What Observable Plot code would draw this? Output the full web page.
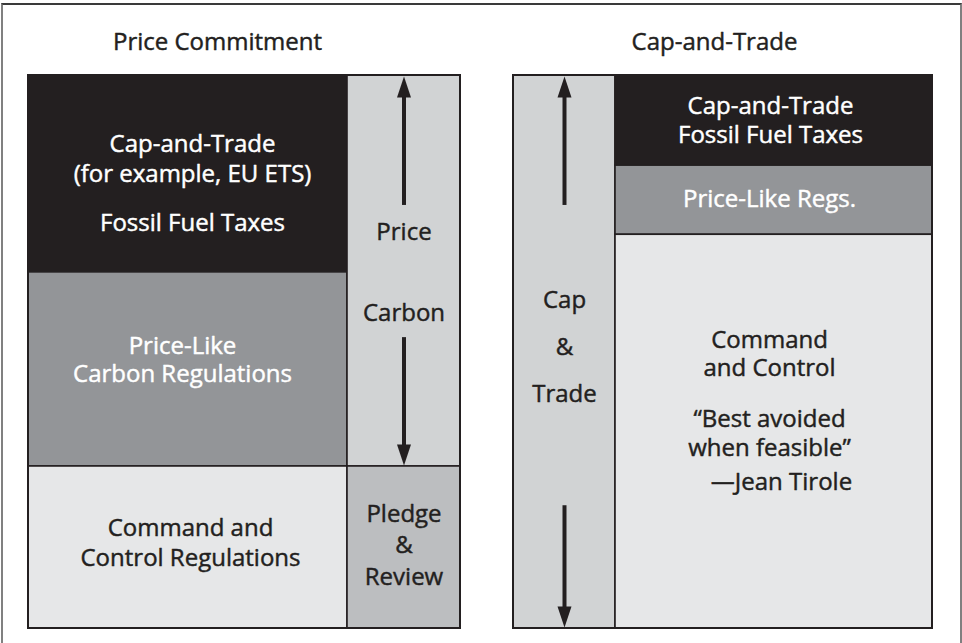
<!DOCTYPE html>
<html>
<head>
<meta charset="utf-8">
<script src="https://cdn.jsdelivr.net/npm/d3@7"></script>
<script src="https://cdn.jsdelivr.net/npm/@observablehq/plot@0.6"></script>
<style>
  html, body { margin: 0; padding: 0; background: #fff; }
  #wrap { position: relative; width: 962px; height: 643px; overflow: hidden; }
  #frame { position: absolute; left: 1px; top: 3px; width: 961px; height: 700px;
           border-left: 2px solid #808080; border-top: 2px solid #3a3a3a; border-right: 2px solid #808080;
           pointer-events: none; box-sizing: border-box; }
  #chart { position: absolute; left: 0; top: 0; }
</style>
</head>
<body>
<div id="wrap"><div id="chart"></div><div id="frame"></div></div>
<script>
// ---------------- DATA ----------------
const panelTitles = ["Price Commitment", "Cap-and-Trade"];

// Price Commitment panel: main column (top to bottom) and side column
const pcMainBlocks = ["Cap-and-Trade / Fossil Fuel Taxes", "Price-Like Carbon Regulations", "Command and Control Regulations"];
const pcMainShares = [35.6, 35.1, 29.3];
const pcMainLabels = [["Cap-and-Trade\n(for example, EU ETS)", "Fossil Fuel Taxes"], ["Price-Like\nCarbon Regulations"], ["Command and\nControl Regulations"]];

const pcSideBlocks = ["Price Carbon", "Pledge & Review"];
const pcSideShares = [70.7, 29.3];
const pcSideLabels = [["Price", "Carbon"], ["Pledge\n&\nReview"]];

// Cap-and-Trade panel: side column and main column (top to bottom)
const ctSideBlocks = ["Cap & Trade"];
const ctSideShares = [100];
const ctSideLabels = [["Cap", "&", "Trade"]];

const ctMainBlocks = ["Cap-and-Trade / Fossil Fuel Taxes", "Price-Like Regs.", "Command and Control"];
const ctMainShares = [16.3, 12.5, 71.2];
const ctMainLabels = [["Cap-and-Trade\nFossil Fuel Taxes"], ["Price-Like Regs."], ["Command\nand Control", "\u201CBest avoided\nwhen feasible\u201D", "\u2014Jean Tirole"]];

// Arrows in the side columns: tail and tip, in % of panel height
const arrowColumns = ["pcSide", "pcSide", "ctSide", "ctSide"];
const arrowFrom = [76.5, 52.6, 76.5, 22.2];
const arrowTo = [100, 29.3, 100, 0];

// ---------------- LAYOUT / STYLE ----------------
const W = 962, H = 643, MT = 75, MB = 15;
const pxPerUnit = (H - MT - MB) / 100;
const colX = { pcMain: [28, 347], pcSide: [347, 460], ctSide: [513, 615], ctMain: [615, 932] };
const panelCols = [["pcMain", "pcSide"], ["ctSide", "ctMain"]];
const titleX = [217, 714];
const palette = { dark: "#231f20", mid: "#939598", light: "#e6e7e8", column: "#d1d3d4", pledge: "#bcbec0" };
const tones = { pcMain: ["dark", "mid", "light"], pcSide: ["column", "pledge"], ctSide: ["column"], ctMain: ["dark", "mid", "light"] };
// per-label offsets (px) of the label centre from its block's centre: [dx, dy, line spacing]
const labelOffsets = {
  pcMain: [[[4.5, -15, 30], [4.5, 50, 29]], [[-5.5, -8, 28]], [[2.5, -4, 30]]],
  pcSide: [[[0, -38, 29], [0, 42.5, 29]], [[0, -2.5, 31.5]]],
  ctSide: [[[0, -51.5, 29], [0, -4.5, 29], [0, 42.5, 29]]],
  ctMain: [[[-3.5, 0.5, 29]], [[-4.5, -0.5, 29]], [[-4.5, -77, 28], [-4.5, 2.5, 29], [7.5, 51, 29]]]
};
const fontSize = 24;
const ink = "#231f20";

// ---------------- BUILD ----------------
const columns = {
  pcMain: [pcMainBlocks, pcMainShares, pcMainLabels],
  pcSide: [pcSideBlocks, pcSideShares, pcSideLabels],
  ctSide: [ctSideBlocks, ctSideShares, ctSideLabels],
  ctMain: [ctMainBlocks, ctMainShares, ctMainLabels]
};
const cells = [];
const labels = [];
for (const [col, [blocks, shares, texts]] of Object.entries(columns)) {
  let top = 100;
  blocks.forEach((b, i) => {
    const y2 = top, y1 = top - shares[i];
    top = y1;
    const tone = tones[col][i];
    cells.push({ column: col, block: b, tone, y1, y2 });
    const cx = (colX[col][0] + colX[col][1]) / 2, cy = (y1 + y2) / 2;
    texts[i].forEach((t, j) => {
      const [dx, dy, lh] = labelOffsets[col][i][j];
      labels.push({ text: t, x: cx + dx, y: cy - dy / pxPerUnit, lh, light: tone === "dark" || tone === "mid" });
    });
  });
}
const panels = panelTitles.map((t, i) => ({ title: t, x1: colX[panelCols[i][0]][0], x2: colX[panelCols[i][1]][1], tx: titleX[i] }));
const arrows = arrowColumns.map((c, i) => ({ x: (colX[c][0] + colX[c][1]) / 2, from: arrowFrom[i], to: arrowTo[i], up: arrowTo[i] > arrowFrom[i] }));

const headLen = 21, headHalf = 7;
const headUp = { draw(ctx) { ctx.moveTo(0, 0); ctx.lineTo(headHalf, headLen); ctx.lineTo(-headHalf, headLen); ctx.closePath(); } };
const headDown = { draw(ctx) { ctx.moveTo(0, 0); ctx.lineTo(headHalf, -headLen); ctx.lineTo(-headHalf, -headLen); ctx.closePath(); } };

const textMarks = Array.from(new Set(labels.map(d => d.lh))).map(lh =>
  Plot.text(labels.filter(d => d.lh === lh), {
    x: "x", y: "y", text: "text", fontSize, lineAnchor: "middle", lineHeight: lh / fontSize, dy: -2,
    fill: d => d.light ? "#ffffff" : ink, stroke: d => d.light ? "#ffffff" : ink, strokeWidth: 0.45
  })
);

const chart = Plot.plot({
  width: W, height: H,
  marginTop: MT, marginBottom: MB, marginLeft: 0, marginRight: 0,
  x: { domain: [0, W], axis: null },
  y: { domain: [0, 100], axis: null },
  style: { fontFamily: "'Open Sans', sans-serif", background: "transparent" },
  marks: [
    Plot.rect(cells, { x1: d => colX[d.column][0], x2: d => colX[d.column][1], y1: "y1", y2: "y2",
      fill: d => palette[d.tone], stroke: ink, strokeWidth: 1.6 }),
    Plot.rect(panels, { x1: "x1", x2: "x2", y1: () => 0, y2: () => 100, fill: "none", stroke: ink, strokeWidth: 2 }),
    // up arrows: y1 is the tip (top), inset by the head length
    Plot.ruleX(arrows.filter(d => d.up), { x: "x", y1: "to", y2: "from", stroke: ink, strokeWidth: 4, insetTop: headLen - 2 }),
    // down arrows: y2 is the tip (bottom), inset by the head length
    Plot.ruleX(arrows.filter(d => !d.up), { x: "x", y1: "from", y2: "to", stroke: ink, strokeWidth: 4, insetBottom: headLen - 2 }),
    Plot.dot(arrows.filter(d => d.up), { x: "x", y: "to", symbol: headUp, fill: ink, stroke: null, dy: 1 }),
    Plot.dot(arrows.filter(d => !d.up), { x: "x", y: "to", symbol: headDown, fill: ink, stroke: null, dy: -1 }),
    ...textMarks,
    Plot.text(panels, { x: "tx", text: "title", frameAnchor: "top", lineAnchor: "middle", dy: -33, fontSize,
      fill: ink, stroke: ink, strokeWidth: 0.45 })
  ]
});
document.getElementById("chart").appendChild(chart);
</script>
</body>
</html>
